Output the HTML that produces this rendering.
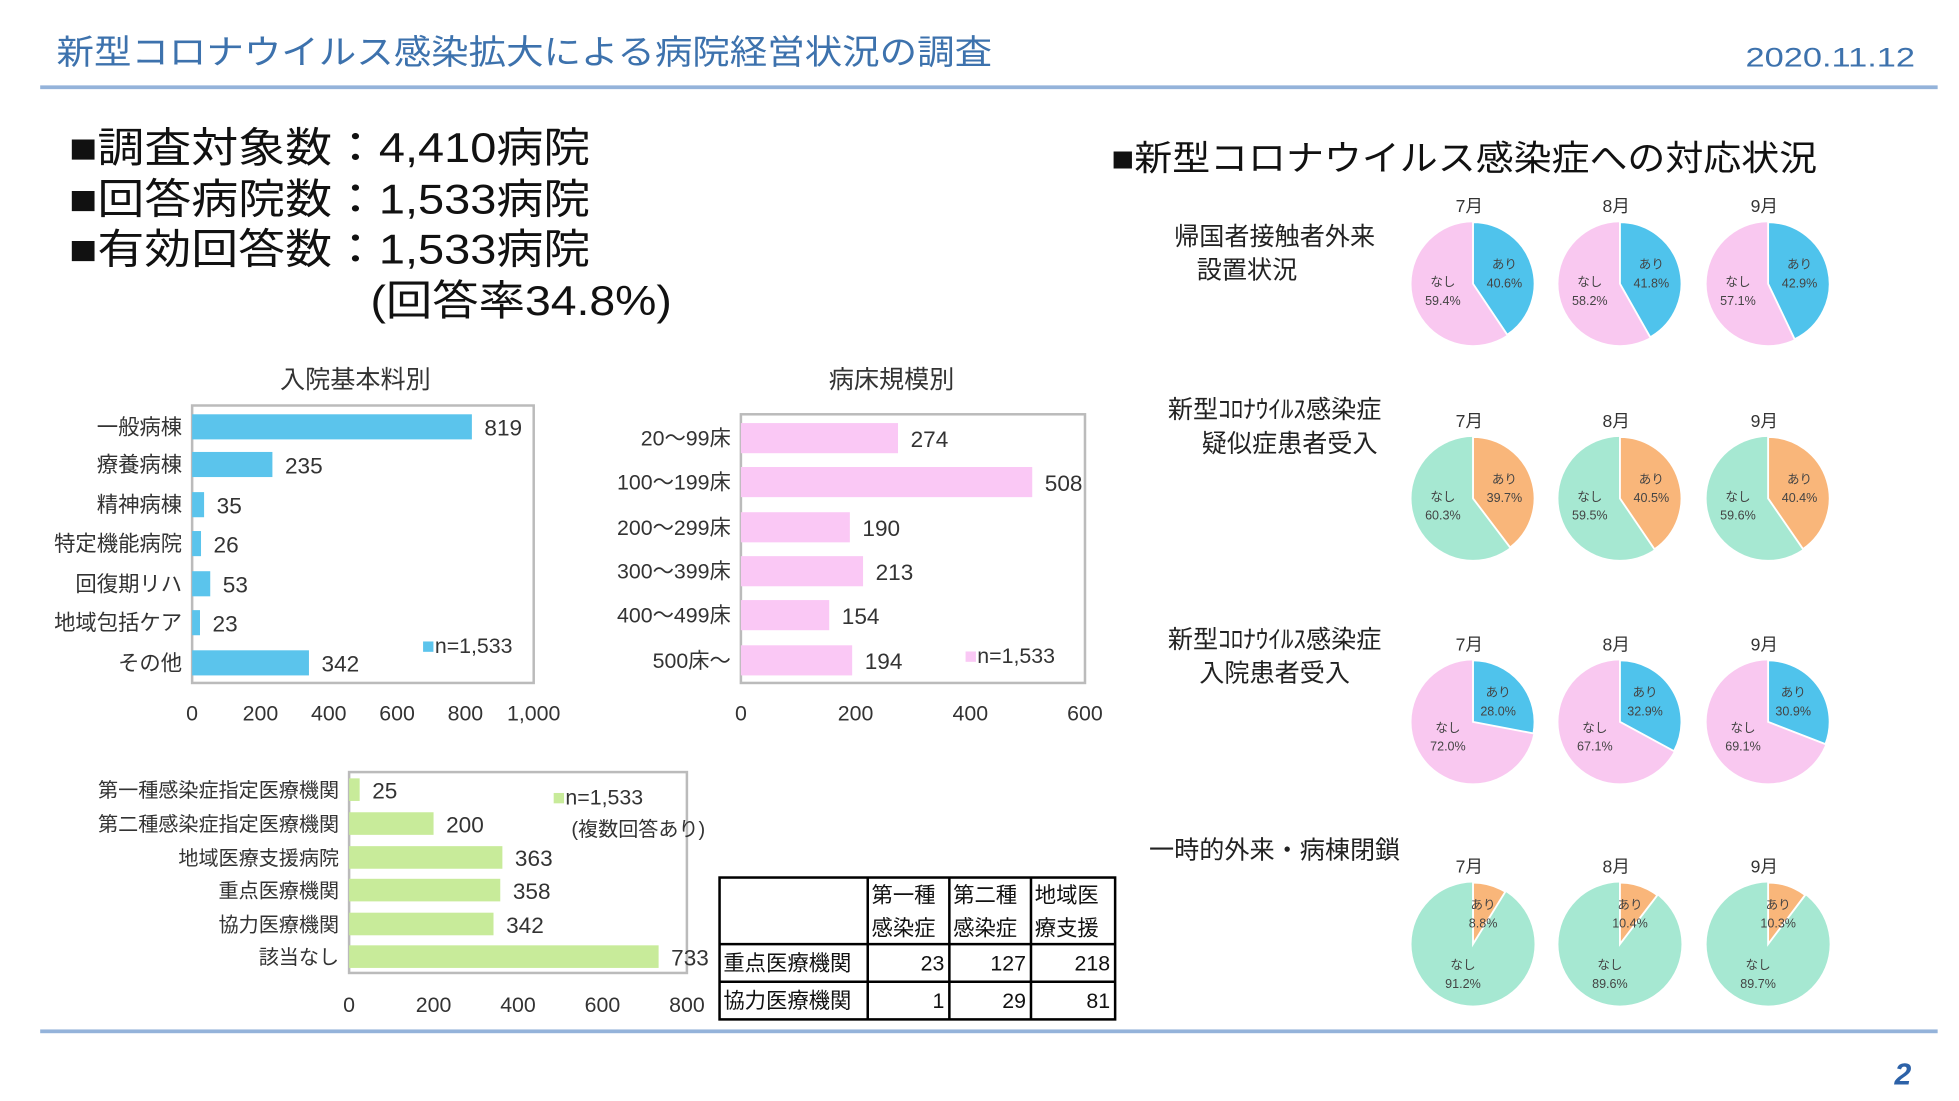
<!DOCTYPE html>
<html><head><meta charset="utf-8"><style>
html,body{margin:0;padding:0;background:#fff;}
svg{display:block;}
text{font-family:"Liberation Sans","Noto Sans CJK JP",sans-serif;}
</style></head><body>
<svg id="s" width="1959" height="1101" viewBox="0 0 1560 877" preserveAspectRatio="none" xmlns="http://www.w3.org/2000/svg">
<rect width="1560" height="877" fill="#fff"/>
<text x="45" y="51" font-size="27" fill="#3d72ad" textLength="745" lengthAdjust="spacingAndGlyphs">新型コロナウイルス感染拡大による病院経営状況の調査</text>
<text x="1390" y="53" font-size="21" fill="#3d72ad" textLength="135" lengthAdjust="spacingAndGlyphs">2020.11.12</text>
<rect x="32" y="68" width="1511" height="3" fill="#94b3da"/>
<rect x="32" y="820" width="1511" height="3" fill="#94b3da"/>
<text x="1522" y="864" font-size="24" font-weight="bold" font-style="italic" fill="#2d62a8" text-anchor="end">2</text>

<g font-size="33" fill="#111">
<text x="55" y="129" textLength="415" lengthAdjust="spacingAndGlyphs">■調査対象数：4,410病院</text>
<text x="55" y="170" textLength="415" lengthAdjust="spacingAndGlyphs">■回答病院数：1,533病院</text>
<text x="55" y="210" textLength="415" lengthAdjust="spacingAndGlyphs">■有効回答数：1,533病院</text>
<text x="295" y="251" textLength="240" lengthAdjust="spacingAndGlyphs">(回答率34.8%)</text>
</g>
<text x="885" y="136" font-size="28" fill="#111" textLength="562" lengthAdjust="spacingAndGlyphs">■新型コロナウイルス感染症への対応状況</text>

<text x="283" y="309" font-size="20" fill="#333" text-anchor="middle">入院基本料別</text>
<rect x="153" y="323" width="272" height="221" fill="#fff" stroke="#bbb" stroke-width="2"/>
<g id="c1"></g>
<text x="710" y="309" font-size="20" fill="#333" text-anchor="middle">病床規模別</text>
<rect x="590" y="330" width="274" height="214" fill="#fff" stroke="#bbb" stroke-width="2"/>
<g id="c2"></g>
<rect x="278" y="615" width="269" height="160" fill="#fff" stroke="#bbb" stroke-width="2"/>
<g id="c3"></g>
<text x="440" y="641" font-size="17" fill="#333"><tspan fill="#c8eb9a">■</tspan>n=1,533</text>
<text x="455" y="666" font-size="16" fill="#333">(複数回答あり)</text>

<g stroke="#000" stroke-width="2" fill="none">
<rect x="573" y="699" width="315" height="113"/>
<line x1="691" y1="699" x2="691" y2="812"/><line x1="756" y1="699" x2="756" y2="812"/><line x1="821" y1="699" x2="821" y2="812"/>
<line x1="573" y1="752" x2="888" y2="752"/><line x1="573" y1="782" x2="888" y2="782"/>
</g>
<g font-size="17" fill="#111">
<text x="694" y="719">第一種</text><text x="694" y="745">感染症</text>
<text x="759" y="719">第二種</text><text x="759" y="745">感染症</text>
<text x="824" y="719">地域医</text><text x="824" y="745">療支援</text>
<text x="576" y="773">重点医療機関</text><text x="576" y="803">協力医療機関</text>
<g text-anchor="end"><text x="752" y="773">23</text><text x="817" y="773">127</text><text x="884" y="773">218</text>
<text x="752" y="803">1</text><text x="817" y="803">29</text><text x="884" y="803">81</text></g>
</g>

<g font-size="20" fill="#222" text-anchor="middle">
<text x="1015" y="195">帰国者接触者外来</text><text x="993" y="222">設置状況</text>
<text x="1015" y="333">新型ｺﾛﾅｳｲﾙｽ感染症</text><text x="1027" y="360">疑似症患者受入</text>
<text x="1015" y="516">新型ｺﾛﾅｳｲﾙｽ感染症</text><text x="1015" y="543">入院患者受入</text>
<text x="1015" y="684">一時的外来・病棟閉鎖</text>
</g>
<g id="pies"></g>
</svg>
<script>
var NS="http://www.w3.org/2000/svg";
function el(p,t,a,txt){var e=document.createElementNS(NS,t);for(var k in a)e.setAttribute(k,a[k]);if(txt!=null)e.textContent=txt;p.appendChild(e);return e;}
function bar(id,x0,w,max,cats,vals,ys,h,col,lx,ticks,ty,fs,leg){
 var g=document.getElementById(id);
 ticks.forEach(function(t){var x=x0+t/max*w;el(g,'text',{x:x,y:ty,'font-size':17,fill:'#333','text-anchor':'middle'},t>=1000?'1,000':String(t));});
 cats.forEach(function(c,i){var bw=vals[i]/max*w;
  el(g,'rect',{x:x0,y:ys[i]-h/2,width:bw,height:h,fill:col});
  el(g,'text',{x:lx,y:ys[i]+6,'font-size':fs,fill:'#333','text-anchor':'end'},c);
  el(g,'text',{x:x0+bw+10,y:ys[i]+7,'font-size':18,fill:'#333'},String(vals[i]));});
 if(leg){var t=el(g,'text',{x:leg[0],y:leg[1],'font-size':17,fill:'#333'});el(t,'tspan',{fill:col},'■');el(t,'tspan',{},'n=1,533');}
}
bar('c1',153,272,1000,['一般病棟','療養病棟','精神病棟','特定機能病院','回復期リハ','地域包括ケア','その他'],[819,235,35,26,53,23,342],[340,370,402,433,465,496,528],20,'#5bc4ec',145,[0,200,400,600,800,1000],574,17,[336,520]);
bar('c2',590,274,600,['20～99床','100～199床','200～299床','300～399床','400～499床','500床～'],[274,508,190,213,154,194],[349,384,420,455,490,526],24,'#fac8f5',582,[0,200,400,600],574,17,[768,528]);
bar('c3',278,269,800,['第一種感染症指定医療機関','第二種感染症指定医療機関','地域医療支援病院','重点医療機関','協力医療機関','該当なし'],[25,200,363,358,342,733],[629,656,683,709,736,762],18,'#c8eb9a',270,[0,200,400,600,800],806,16,null);
var P=document.getElementById('pies');
var cx=[1173,1290,1408],rows=[
 {cy:226,my:169,a:'#4fc3ec',n:'#f9c8f0',v:[40.6,41.8,42.9],ao:[25,-12],no:[-24,2]},
 {cy:397,my:340,a:'#f9b67a',n:'#a6e8d2',v:[39.7,40.5,40.4],ao:[25,-12],no:[-24,2]},
 {cy:575,my:518,a:'#4fc3ec',n:'#f9c8f0',v:[28.0,32.9,30.9],ao:[20,-20],no:[-20,8]},
 {cy:752,my:695,a:'#f9b67a',n:'#a6e8d2',v:[8.8,10.4,10.3],ao:[8,-28],no:[-8,20]}];
rows.forEach(function(r){cx.forEach(function(x,i){var R=49,p=r.v[i]/100,an=2*Math.PI*p;
 el(P,'circle',{cx:x,cy:r.cy,r:R,fill:r.n});
 var ex=x+R*Math.sin(an),ey=r.cy-R*Math.cos(an);
 el(P,'path',{d:'M'+x+','+r.cy+' L'+x+','+(r.cy-R)+' A'+R+','+R+' 0 '+(p>0.5?1:0)+' 1 '+ex+','+ey+' Z',fill:r.a,stroke:'#fff','stroke-width':1.5});
 el(P,'text',{x:x-3,y:r.my,'font-size':14,fill:'#333','text-anchor':'middle'},(7+i)+'月');
 var s={'font-size':10,fill:'#444','text-anchor':'middle'};
 function T(dx,dy,t){var o=Object.assign({x:x+dx,y:r.cy+dy},s);el(P,'text',o,t);}
 T(r.ao[0],r.ao[1],'あり');T(r.ao[0],r.ao[1]+15,r.v[i].toFixed(1)+'%');
 T(r.no[0],r.no[1],'なし');T(r.no[0],r.no[1]+15,(100-r.v[i]).toFixed(1)+'%');
});});
</script>
</body></html>
